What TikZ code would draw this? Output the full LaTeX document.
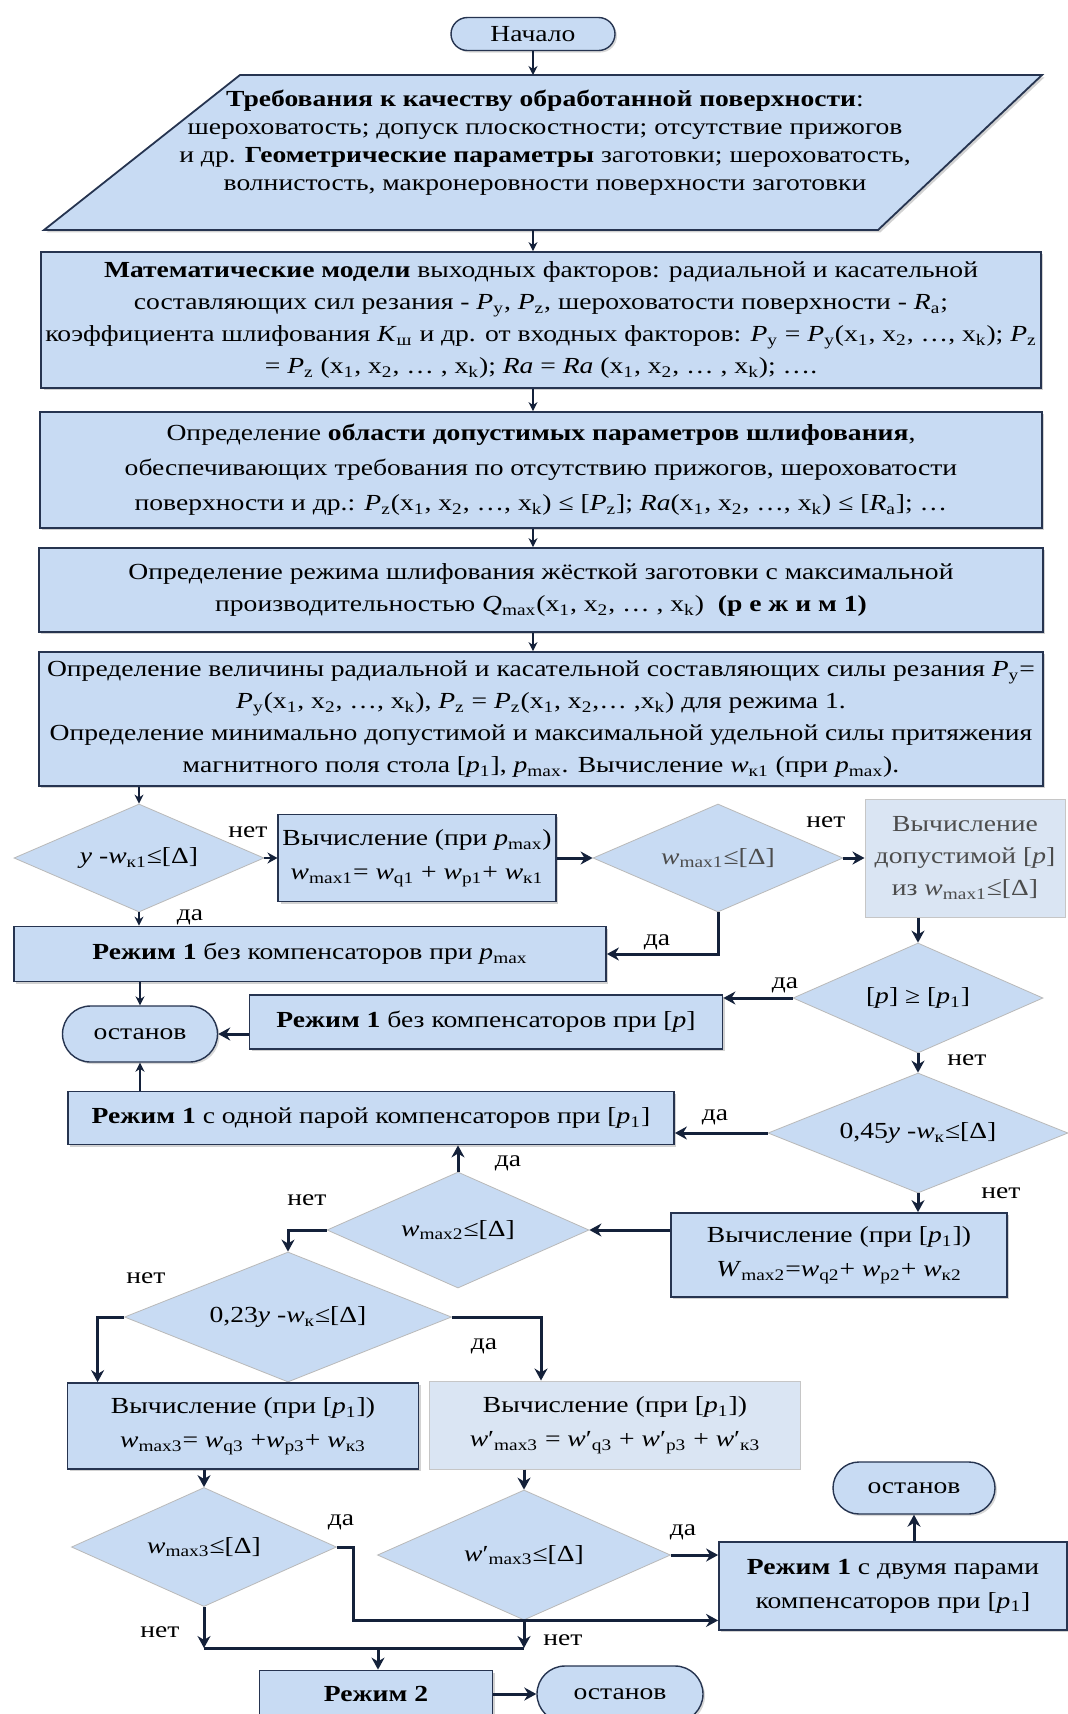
\documentclass[tikz,border=0pt]{standalone}
\usepackage{fontspec}
\setmainfont{Liberation Serif}[FakeStretch=1.2]
\usetikzlibrary{shapes.geometric,shapes.misc,arrows.meta,shadows}

\definecolor{boxfill}{RGB}{200,219,243}
\definecolor{palefill}{RGB}{218,229,243}
\definecolor{boxline}{RGB}{38,52,80}
\definecolor{arrowcol}{RGB}{20,33,58}

\newcommand{\isub}[2]{\textit{#1}\textsubscript{#2}}
\newcommand{\xs}[1]{x\textsubscript{#1}}

\begin{document}
\begin{tikzpicture}[x=0.5pt, y=-0.5pt,
    font=\fontsize{11.5}{14}\selectfont,
    blk/.style={rectangle, draw=boxline, line width=0.9pt, fill=boxfill, align=center, inner sep=2pt,
        drop shadow={shadow xshift=1.2pt, shadow yshift=-1.2pt, opacity=0.35}},
    pale/.style={rectangle, draw=gray!45, line width=0.5pt, fill=palefill, align=center, inner sep=2pt},
    term/.style={rounded rectangle, draw=boxline, line width=0.7pt, fill=boxfill, inner sep=2pt,
        drop shadow={shadow xshift=1pt, shadow yshift=-1pt, opacity=0.3}},
    dec/.style={diamond, draw=gray!55, line width=0.4pt, fill=boxfill, aspect=2.5, inner sep=0pt, align=center},
    ln/.style={arrowcol, line width=0.6pt, -{Stealth[length=4.5pt, width=4.5pt]}},
    thk/.style={arrowcol, line width=1.5pt, -{Stealth[length=6pt, width=6.5pt]}},
    lbl/.style={inner sep=0pt},
]
\fill[white] (0,0) rectangle (1068,1714);
\useasboundingbox (0,0) rectangle (1068,1714);

% Start and input data
\node[term, minimum width=86pt, minimum height=16.5pt] (start) at (533,34) {Начало};
\filldraw[fill=boxfill, draw=boxline, line width=0.9pt,
    drop shadow={shadow xshift=1.2pt, shadow yshift=-1.2pt, opacity=0.35}]
    (240,75) -- (1042,75) -- (878,230) -- (44,230) -- cycle;
\coordinate (pT) at (533,75);
\coordinate (pB) at (533,230);
\node[align=center] (para) at (545,143) {%
    \textbf{Требования к качеству обработанной поверхности}:\\
    шероховатость; допуск плоскостности; отсутствие прижогов\\
    и др. \textbf{Геометрические параметры} заготовки; шероховатость,\\
    волнистость, макронеровности поверхности заготовки};

% Models and parameter area
\node[blk, minimum width=499pt, minimum height=68pt, font=\fontsize{11.5}{16}\selectfont] (mm) at (541,320) {%
    \textbf{Математические модели} выходных факторов: радиальной и касательной\\
    составляющих сил резания - \isub{P}{y}, \isub{P}{z}, шероховатости поверхности - \isub{R}{a};\\
    коэффициента шлифования \isub{K}{ш} и др. от входных факторов: \isub{P}{y} = \isub{P}{y}(\xs{1}, \xs{2}, …, \xs{k}); \isub{P}{z}\\
    = \isub{P}{z} (\xs{1}, \xs{2}, … , \xs{k}); \textit{Ra} = \textit{Ra} (\xs{1}, \xs{2}, … , \xs{k}); ….};
\node[blk, minimum width=501pt, minimum height=58pt, font=\fontsize{11.5}{17.5}\selectfont] (oblast) at (541,470) {%
    Определение \textbf{области допустимых параметров шлифования},\\
    обеспечивающих требования по отсутствию прижогов, шероховатости\\
    поверхности и др.: \isub{P}{z}(\xs{1}, \xs{2}, …, \xs{k}) ≤ [\isub{P}{z}]; \textit{Ra}(\xs{1}, \xs{2}, …, \xs{k}) ≤ [\isub{R}{a}]; …};
\node[blk, minimum width=502pt, minimum height=42pt, font=\fontsize{11.5}{16}\selectfont] (rezh) at (541,590) {%
    Определение режима шлифования жёсткой заготовки с максимальной\\
    производительностью \isub{Q}{max}(\xs{1}, \xs{2}, … , \xs{k})\ \ \textbf{(р е ж и м 1)}};
\node[blk, minimum width=502pt, minimum height=67pt, font=\fontsize{11.5}{16}\selectfont] (sily) at (541,719) {%
    Определение величины радиальной и касательной составляющих силы резания \isub{P}{y}=\\
    \isub{P}{y}(\xs{1}, \xs{2}, …, \xs{k}), \isub{P}{z} = \isub{P}{z}(\xs{1}, \xs{2},… ,\xs{k}) для режима 1.\\
    Определение минимально допустимой и максимальной удельной силы притяжения\\
    магнитного поля стола [\isub{p}{1}], \isub{p}{max}. Вычисление \isub{w}{к1} (при \isub{p}{max}).};

% Row with p_max
\node[dec, minimum width=125pt, minimum height=54pt] (d1) at (139,858) {\textit{y} -\isub{w}{к1}≤[Δ]};
\node[blk, minimum width=134.5pt, minimum height=43.5pt, font=\fontsize{11.5}{17}\selectfont] (bpmax) at (417,858) {%
    Вычисление (при \isub{p}{max})\\ \isub{w}{max1}= \isub{w}{q1} + \isub{w}{p1}+ \isub{w}{к1}};
\node[dec, minimum width=125pt, minimum height=54pt, text=gray!60!black] (d2) at (718,858) {\isub{w}{max1}≤[Δ]};
\node[pale, minimum width=100pt, minimum height=59pt, text=gray!60!black, font=\fontsize{11.5}{16}\selectfont] (bdop) at (965,858) {%
    Вычисление\\ допустимой [\textit{p}]\\ из \isub{w}{max1}≤[Δ]};
\node[blk, minimum width=296pt, minimum height=27.5pt] (r1pmax) at (310,954) {\textbf{Режим 1} без компенсаторов при \isub{p}{max}};
\node[dec, minimum width=125pt, minimum height=55pt] (d3) at (918,998) {[\textit{p}] ≥ [\isub{p}{1}]};
\node[blk, minimum width=236.5pt, minimum height=27pt] (r1p) at (486,1022) {\textbf{Режим 1} без компенсаторов при [\textit{p}]};
\node[term, minimum width=81.5pt, minimum height=28pt] (stop1) at (140,1034) {останов};

% One pair of compensators
\node[blk, minimum width=303pt, minimum height=26.5pt] (r1one) at (371,1118) {\textbf{Режим 1} с одной парой компенсаторов при [\isub{p}{1}]};
\node[dec, minimum width=150pt, minimum height=60pt] (d4) at (918,1133) {0,45\textit{y} -\isub{w}{к}≤[Δ]};
\node[blk, minimum width=168pt, minimum height=42pt, font=\fontsize{11.5}{17}\selectfont] (b2) at (839,1255) {%
    Вычисление (при [\isub{p}{1}])\\ \isub{W}{max2}=\isub{w}{q2}+ \isub{w}{p2}+ \isub{w}{к2}};
\node[dec, minimum width=131pt, minimum height=58pt] (d5) at (458,1230) {\isub{w}{max2}≤[Δ]};

% Two pairs of compensators
\node[dec, minimum width=163.5pt, minimum height=65pt] (d6) at (288,1317) {0,23\textit{y} -\isub{w}{к}≤[Δ]};
\node[blk, minimum width=175.5pt, minimum height=43pt, font=\fontsize{11.5}{17}\selectfont] (b3a) at (243,1426) {%
    Вычисление (при [\isub{p}{1}])\\ \isub{w}{max3}= \isub{w}{q3} +\isub{w}{p3}+ \isub{w}{к3}};
\node[pale, minimum width=185.5pt, minimum height=44pt, font=\fontsize{11.5}{17}\selectfont] (b3b) at (615,1425) {%
    Вычисление (при [\isub{p}{1}])\\ \textit{w}′\textsubscript{max3} = \textit{w}′\textsubscript{q3} + \textit{w}′\textsubscript{p3} + \textit{w}′\textsubscript{к3}};
\node[dec, minimum width=132.5pt, minimum height=59.5pt] (d7) at (204,1547) {\isub{w}{max3}≤[Δ]};
\node[dec, minimum width=146.5pt, minimum height=65pt] (d8) at (524,1555) {\textit{w}′\textsubscript{max3}≤[Δ]};
\node[blk, minimum width=174pt, minimum height=44pt, font=\fontsize{11.5}{17}\selectfont] (r1two) at (893,1586) {%
    \textbf{Режим 1} с двумя парами\\ компенсаторов при [\isub{p}{1}]};
\node[term, minimum width=85pt, minimum height=26pt] (stop3) at (914,1488) {останов};
\node[blk, minimum width=116.5pt, minimum height=23.5pt] (r2) at (376,1694) {\textbf{Режим 2}};
\node[term, minimum width=87pt, minimum height=28pt] (stop2) at (620,1694) {останов};

% Junction points
\coordinate (jl) at (204,1648);
\coordinate (jr) at (524,1648);
\coordinate (jm) at (378,1648);

% Thin connectors
\draw[ln] (start.south -| pT) -- (pT);
\draw[ln] (pB) -- (pB |- mm.north);
\draw[ln] (mm.south -| pB) -- (oblast.north -| pB);
\draw[ln] (oblast.south -| pB) -- (rezh.north -| pB);
\draw[ln] (rezh.south -| pB) -- (sily.north -| pB);
\draw[ln] (sily.south -| d1) -- (d1.north);
\draw[ln] (d1.south) -- (d1.south |- r1pmax.north);
\draw[ln] (r1pmax.south -| stop1) -- (stop1.north);
\draw[ln] (r1one.north -| stop1) -- (stop1.south);
\draw[arrowcol, line width=1pt, -{Stealth[length=5pt, width=5.5pt]}] (d1.east) -- (bpmax.west);

% Thick connectors
\draw[thk] (bpmax.east) -- (d2.west);
\draw[thk] (d2.east) -- (bdop.west);
\draw[thk] (d2.south) |- (r1pmax.east);
\draw[thk] (bdop.south -| d3) -- (d3.north);
\draw[thk] (d3.west) -- (d3.west -| r1p.east);
\draw[thk] (r1p.west |- stop1.east) -- (stop1.east);
\draw[thk] (d3.south) -- (d4.north);
\draw[thk] (d4.west) -- (d4.west -| r1one.east);
\draw[thk] (d4.south) -- (d4.south |- b2.north);
\draw[thk] (b2.west |- d5.east) -- (d5.east);
\draw[thk] (d5.north) -- (d5.north |- r1one.south);
\draw[thk] (d5.west) -| (d6.north);
\draw[thk] (d6.west) -| ([xshift=15.5pt]b3a.north west);
\draw[thk] (d6.east) -| ([xshift=56pt]b3b.north west);
\draw[thk] (b3a.south -| d7) -- (d7.north);
\draw[thk] (b3b.south -| d8) -- (d8.north);
\draw[thk] (d8.east) -- (d8.east -| r1two.west);
\draw[thk] (d7.east) -- ++(17,0) |- (r1two.west |- d8.south);
\draw[thk] (r1two.north -| stop3) -- (stop3.south);
\draw[thk] (d7.south) -- (jl);
\draw[thk] (d8.south) -- (jr);
\draw[arrowcol, line width=1.5pt] (jl) -- (jr);
\draw[thk] (jm) -- (jm |- r2.north);
\draw[thk] (r2.east) -- (stop2.west);

% Branch labels
\node[lbl] (l1) at (248,832) {нет};
\node[lbl] (l2) at (190,917) {да};
\node[lbl] (l3) at (826,822) {нет};
\node[lbl] (l4) at (657,942) {да};
\node[lbl] (l5) at (785,985) {да};
\node[lbl] (l6) at (967,1060) {нет};
\node[lbl] (l7) at (715,1117) {да};
\node[lbl] (l8) at (1001,1193) {нет};
\node[lbl] (l9) at (508,1163) {да};
\node[lbl] (l10) at (307,1200) {нет};
\node[lbl] (l11) at (146,1278) {нет};
\node[lbl] (l12) at (484,1346) {да};
\node[lbl] (l13) at (341,1522) {да};
\node[lbl] (l14) at (160,1632) {нет};
\node[lbl] (l15) at (683,1532) {да};
\node[lbl] (l16) at (563,1640) {нет};

\end{tikzpicture}
\end{document}
